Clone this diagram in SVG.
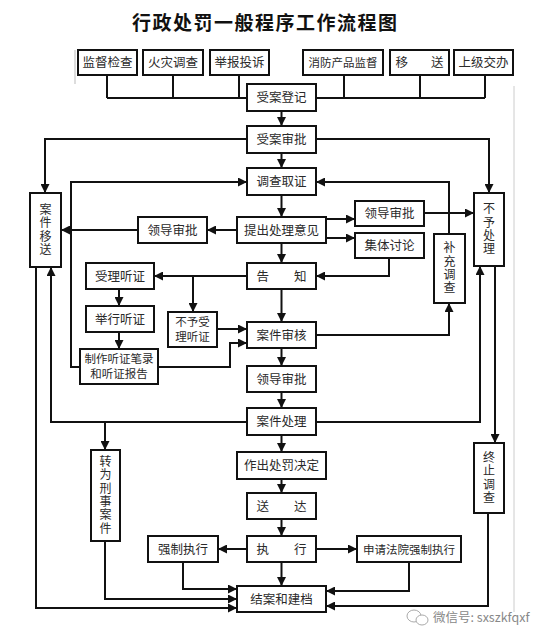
<svg xmlns="http://www.w3.org/2000/svg" width="552" height="642" viewBox="0 0 552 642">
<style>
.b{fill:#fff;stroke:#111;stroke-width:2}
.t{font-family:"Noto Sans CJK SC","Noto Sans",sans-serif;font-size:12.5px;fill:#2a2a2a;text-anchor:middle}
.s{font-size:11.5px}
.v{font-family:"Noto Sans CJK SC","Noto Sans",sans-serif;font-size:12px;fill:#2a2a2a;text-anchor:middle;writing-mode:vertical-rl;letter-spacing:1.3px}
.c{fill:none;stroke:#111;stroke-width:2}
.a{marker-end:url(#arr)}
</style>
<defs>
<marker id="arr" viewBox="0 0 10 10" refX="10" refY="5" markerWidth="9" markerHeight="9" markerUnits="userSpaceOnUse" orient="auto"><path d="M0,0 L10,5 L0,10 z" fill="#111"/></marker>
</defs>
<rect width="552" height="642" fill="#fff"/>
<line x1="75" y1="50" x2="75" y2="84" stroke="#bbb" stroke-width="1"/>
<line x1="514" y1="86" x2="514" y2="612" stroke="#ccc" stroke-width="1"/>
<text x="132" y="30" style="font-family:'Noto Sans CJK SC',sans-serif;font-size:19px;letter-spacing:1.5px;fill:#111;font-weight:bold">行政处罚一般程序工作流程图</text>

<g id="connectors">
<path class="c" d="M107,75V98M173,75V98M239,75V98M344,75V98M420,75V98M485,75V98M107,98H485"/>
<path class="c a" d="M281.5,111V126"/>
<path class="c a" d="M247,139H45V193"/>
<path class="c a" d="M316,139H489V193"/>
<path class="c a" d="M281.5,153V168"/>
<path class="c a" d="M80,367H71V182H247"/>
<path class="c a" d="M449,234V182H316"/>
<path class="c a" d="M281.5,195V217"/>
<path class="c a" d="M237,230H207"/>
<path class="c a" d="M138,230H61"/>
<path class="c a" d="M326,219H355"/>
<path class="c a" d="M326,238H355"/>
<path class="c a" d="M424,213H474"/>
<path class="c a" d="M389,258V276H316"/>
<path class="c a" d="M281.5,243V263"/>
<path class="c a" d="M247,276H154"/>
<path class="c a" d="M193,276V312"/>
<path class="c a" d="M119,289V306"/>
<path class="c a" d="M119,332V349"/>
<path class="c a" d="M217,329H247"/>
<path class="c a" d="M158,367H230V343H247"/>
<path class="c a" d="M281.5,289V322"/>
<path class="c a" d="M316,335H449V303"/>
<path class="c a" d="M281.5,348V366"/>
<path class="c a" d="M281.5,392V408"/>
<path class="c a" d="M247,422H51V267"/>
<path class="c a" d="M105,422V450"/>
<path class="c a" d="M316,422H480V266"/>
<path class="c a" d="M495,266V443"/>
<path class="c a" d="M281.5,435V452"/>
<path class="c a" d="M281.5,479V493"/>
<path class="c a" d="M281.5,519V536"/>
<path class="c a" d="M247,549H218"/>
<path class="c a" d="M316,549H357"/>
<path class="c a" d="M281.5,562V586"/>
<path class="c a" d="M183,562V589H237"/>
<path class="c a" d="M105,541V599H237"/>
<path class="c a" d="M36,267V608H237"/>
<path class="c a" d="M409,562V591H326"/>
<path class="c a" d="M488,513V606H326"/>
</g>

<g id="n1"><rect class="b" x="78" y="50" width="59" height="25"/><text class="t" x="107.5" y="67">监督检查</text></g>
<g id="n2"><rect class="b" x="143" y="50" width="60" height="25"/><text class="t" x="173" y="67">火灾调查</text></g>
<g id="n3"><rect class="b" x="210" y="50" width="59" height="25"/><text class="t" x="239.5" y="67">举报投诉</text></g>
<g id="n4"><rect class="b" x="303" y="50" width="80" height="25"/><text class="t s" x="343" y="67">消防产品监督</text></g>
<g id="n5"><rect class="b" x="390" y="50" width="59" height="25"/><text class="t" x="419.5" y="67">移<tspan dx="23">送</tspan></text></g>
<g id="n6"><rect class="b" x="454" y="50" width="59" height="25"/><text class="t" x="483.5" y="67">上级交办</text></g>

<g id="n7"><rect class="b" x="247" y="84" width="69" height="27"/><text class="t" x="281.5" y="102">受案登记</text></g>
<g id="n8"><rect class="b" x="247" y="126" width="69" height="27"/><text class="t" x="281.5" y="144">受案审批</text></g>
<g id="n9"><rect class="b" x="247" y="168" width="69" height="27"/><text class="t" x="281.5" y="186">调查取证</text></g>
<g id="n10"><rect class="b" x="237" y="217" width="89" height="26"/><text class="t" x="281.5" y="234.5">提出处理意见</text></g>
<g id="n11"><rect class="b" x="138" y="217" width="69" height="26"/><text class="t" x="172.5" y="234.5">领导审批</text></g>
<g id="n12"><rect class="b" x="355" y="201" width="69" height="25"/><text class="t" x="389.5" y="218">领导审批</text></g>
<g id="n13"><rect class="b" x="355" y="233" width="69" height="25"/><text class="t" x="389.5" y="250">集体讨论</text></g>
<g id="n14"><rect class="b" x="30" y="193" width="31" height="74"/><text class="v" x="45.5" y="230">案件移送</text></g>
<g id="n15"><rect class="b" x="474" y="193" width="30" height="73"/><text class="v" x="489" y="229.5">不予处理</text></g>
<g id="n16"><rect class="b" x="434" y="234" width="31" height="69"/><text class="v" x="449.5" y="268.5">补充调查</text></g>
<g id="n17"><rect class="b" x="247" y="263" width="69" height="26"/><text class="t" x="281.5" y="280.5">告　　知</text></g>
<g id="n18"><rect class="b" x="86" y="263" width="68" height="26"/><text class="t" x="120" y="280.5">受理听证</text></g>
<g id="n19"><rect class="b" x="86" y="306" width="68" height="26"/><text class="t" x="120" y="323.5">举行听证</text></g>
<g id="n20"><rect class="b" x="80" y="349" width="78" height="35"/><text class="t s"><tspan x="119" y="363">制作听证笔录</tspan><tspan x="119" y="378">和听证报告</tspan></text></g>
<g id="n21"><rect class="b" x="168" y="312" width="49" height="35"/><text class="t s"><tspan x="192.5" y="326">不予受</tspan><tspan x="192.5" y="341">理听证</tspan></text></g>
<g id="n22"><rect class="b" x="247" y="322" width="69" height="26"/><text class="t" x="281.5" y="339.5">案件审核</text></g>
<g id="n23"><rect class="b" x="247" y="366" width="69" height="26"/><text class="t" x="281.5" y="383.5">领导审批</text></g>
<g id="n24"><rect class="b" x="247" y="408" width="69" height="27"/><text class="t" x="281.5" y="426">案件处理</text></g>
<g id="n25"><rect class="b" x="91" y="450" width="29" height="91"/><text class="v" x="105.5" y="495.5">转为刑事案件</text></g>
<g id="n26"><rect class="b" x="474" y="443" width="30" height="70"/><text class="v" x="489" y="478">终止调查</text></g>
<g id="n27"><rect class="b" x="237" y="452" width="89" height="27"/><text class="t" x="281.5" y="470">作出处罚决定</text></g>
<g id="n28"><rect class="b" x="247" y="493" width="69" height="26"/><text class="t" x="281.5" y="510.5">送　　达</text></g>
<g id="n29"><rect class="b" x="247" y="536" width="69" height="26"/><text class="t" x="281.5" y="553.5">执　　行</text></g>
<g id="n30"><rect class="b" x="148" y="536" width="70" height="26"/><text class="t" x="183" y="553.5">强制执行</text></g>
<g id="n31"><rect class="b" x="357" y="536" width="104" height="26"/><text class="t s" x="409" y="553.5">申请法院强制执行</text></g>
<g id="n32"><rect class="b" x="237" y="586" width="89" height="26"/><text class="t" x="281.5" y="603.5">结案和建档</text></g>

<g id="watermark">
<ellipse cx="414" cy="616" rx="7" ry="6" fill="none" stroke="#aaa" stroke-width="1"/>
<ellipse cx="422" cy="620" rx="6" ry="5" fill="#fff" stroke="#aaa" stroke-width="1"/>
<text x="433" y="622" style="font-family:'Noto Sans CJK SC',sans-serif;font-size:12.5px;fill:#888">微信号: sxszkfqxf</text>
</g>
</svg>
